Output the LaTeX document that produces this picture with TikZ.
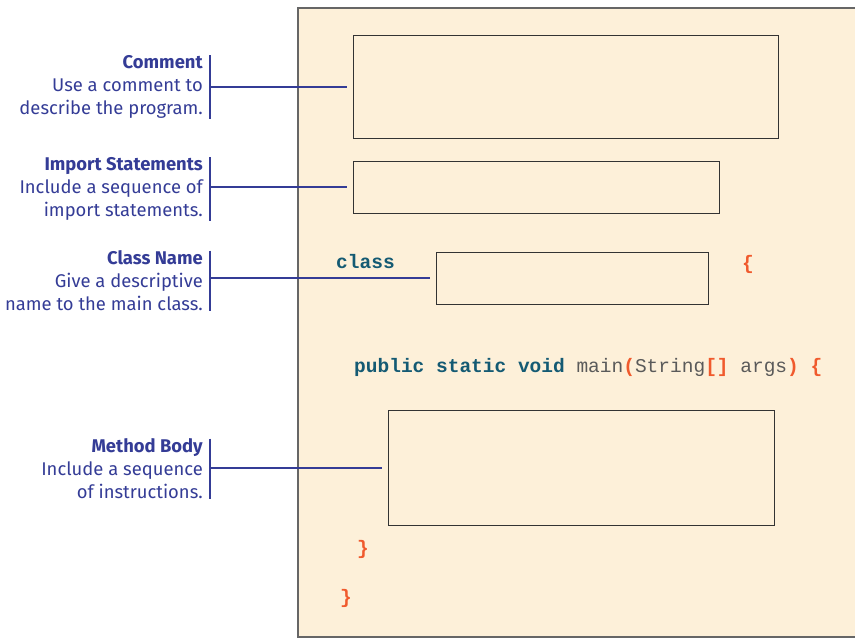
\documentclass[tikz,border=0pt]{standalone}
\usepackage{fontspec}
\setmainfont{Fira Sans}
\newfontfamily\codefont{Liberation Mono}
\usepackage{tikz}
\usetikzlibrary{positioning,calc}

\definecolor{lblblue}{RGB}{52,60,150}
\definecolor{paper}{RGB}{253,240,217}
\definecolor{kwteal}{RGB}{20,90,115}
\definecolor{txtgray}{RGB}{90,90,90}
\definecolor{punred}{RGB}{240,90,45}

\newcommand{\kw}[1]{\textcolor{kwteal}{\bfseries #1}}
\newcommand{\pun}[1]{\textcolor{punred}{\bfseries #1}}

\tikzset{
  note/.style={anchor=east, align=right, text=lblblue, font=\fontsize{18.4}{23}\selectfont,
    inner xsep=7pt, inner ysep=0pt},
  slot/.style={draw=black!80, line width=1pt, anchor=north west, inner sep=0pt},
  code/.style={anchor=base west, inner sep=0pt, text=txtgray, font=\codefont\fontsize{19.5}{22}\selectfont},
  lead/.style={draw=lblblue, line width=2pt, shorten >=6pt}
}

\begin{document}
\begin{tikzpicture}[x=1pt,y=-1pt]
  \useasboundingbox (0,0) rectangle (855,639);
  % the source file
  \draw[fill=paper, draw=black!60, line width=1.3pt] (298,8) rectangle (862,637);

  \node[slot, minimum width=425pt, minimum height=103pt] (cmtbox) at (353,35) {};
  \node[slot, minimum width=366pt, minimum height=52pt] (impbox) at (353,161) {};
  \node[slot, minimum width=272pt, minimum height=52pt] (clsbox) at (436,252) {};
  \node[slot, minimum width=386pt, minimum height=115pt] (bodybox) at (388,410) {};

  \node[code] (clskw) at (336,269) {\kw{class}};
  \node[code] (clsopen) at (742,270) {\pun{\{}};
  \node[code] (mainline) at (354,373)
    {\kw{public static void} main\pun{(}String\pun{[]} args\pun{)} \pun{\{}};
  \node[code] (mainclose) at (357,554) {\pun{\}}};
  \node[code] (clsclose) at (340,603) {\pun{\}}};

  % labels on the left
  \node[note] (cmtnote) at (210,87) {\textbf{Comment}\\Use a comment to\\describe the program.};
  \node[note] (impnote) at (210,189) {\textbf{Import Statements}\\Include a sequence of\\import statements.};
  \node[note] (clsnote) at (210,281) {\textbf{Class Name}\\Give a descriptive\\name to the main class.};
  \node[note] (bodynote) at (210,469) {\textbf{Method Body}\\Include a sequence\\of instructions.};

  \foreach \n/\b in {cmtnote/cmtbox,impnote/impbox,clsnote/clsbox,bodynote/bodybox}{
    \draw[lblblue, line width=2pt] (\n.north east) -- (\n.south east);
    \draw[lead] (\n.east |- \b.west) -- (\b.west);
  }
\end{tikzpicture}
\end{document}
